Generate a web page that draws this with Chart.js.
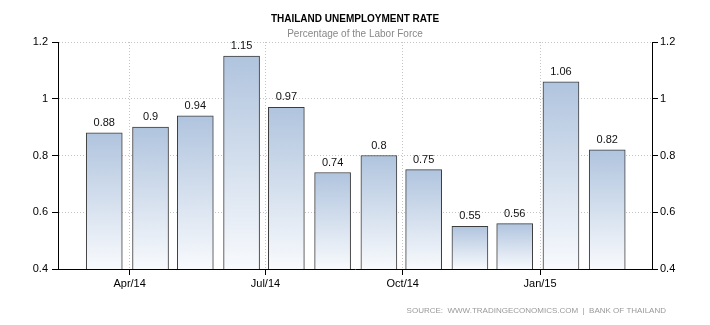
<!DOCTYPE html>
<html><head><meta charset="utf-8">
<script src="https://cdn.jsdelivr.net/npm/chart.js@4/dist/chart.umd.min.js"></script>
<style>html,body{margin:0;padding:0;background:#fff}#wrap{width:710px;height:325px;position:relative}</style>
</head><body><div id="wrap"><canvas id="c" width="710" height="325"></canvas></div>
<script>
const months = ['2014-03-15','2014-04-15','2014-05-15','2014-06-15','2014-07-15','2014-08-15','2014-09-15','2014-10-15','2014-11-15','2014-12-15','2015-01-15','2015-02-15'];
const values = [0.88, 0.9, 0.94, 1.15, 0.97, 0.74, 0.8, 0.75, 0.55, 0.56, 1.06, 0.82];
const tickDates = ['2014-04-01','2014-07-01','2014-10-01','2015-01-01'];
const tickLabels = ['Apr/14','Jul/14','Oct/14','Jan/15'];
const yTicks = [0.4, 0.6, 0.8, 1, 1.2];
const axisStart = '2014-02-12';
const axisEnd = '2015-03-17';
const titleText = 'THAILAND UNEMPLOYMENT RATE';
const subtitleText = 'Percentage of the Labor Force';
const sourceText = 'SOURCE:  WWW.TRADINGECONOMICS.COM  |  BANK OF THAILAND';

const DAY = 86400000, ORIGIN = Date.UTC(2014, 0, 1);
const toDay = s => (Date.parse(s + 'T00:00:00Z') - ORIGIN) / DAY;

const gridColor = '#c4c4c4';
const tickFont = {family: '"Liberation Sans", Arial, sans-serif', size: 11};

function yScale(pos) {
  return {
    position: pos, min: 0.4, max: 1.2,
    afterBuildTicks: s => { s.ticks = yTicks.map(v => ({value: v})); },
    ticks: {callback: v => String(v), font: tickFont, color: '#000', padding: pos === 'left' ? 4 : 2},
    grid: {color: gridColor, lineWidth: 1, tickColor: '#000', tickLength: 6, drawOnChartArea: pos === 'left'},
    border: {display: true, color: '#000', width: 1, dash: [1, 2]},
    afterFit: s => { s.width = 58; }
  };
}

const overlay = {
  id: 'overlay',
  afterDatasetsDraw(chart) {
    const ctx = chart.ctx;
    const meta = chart.getDatasetMeta(0);
    ctx.save();
    ctx.font = '11px "Liberation Sans", Arial, sans-serif';
    ctx.fillStyle = '#111';
    ctx.textAlign = 'center';
    ctx.textBaseline = 'alphabetic';
    meta.data.forEach((el, i) => {
      ctx.fillText(String(values[i]), el.x, el.y - 7);
    });
    ctx.restore();
  },
  afterDraw(chart) {
    const ctx = chart.ctx, a = chart.chartArea;
    const cx = (a.left + a.right) / 2;
    ctx.save();
    ctx.textAlign = 'center';
    ctx.fillStyle = '#000';
    ctx.font = 'bold 10px "Liberation Sans", Arial, sans-serif';
    ctx.fillText(titleText, cx, 22);
    ctx.fillStyle = '#888';
    ctx.font = '10px "Liberation Sans", Arial, sans-serif';
    ctx.fillText(subtitleText, cx, 37);
    ctx.textAlign = 'right';
    ctx.fillStyle = '#999';
    ctx.font = '8px "Liberation Sans", Arial, sans-serif';
    ctx.fillText(sourceText, 666, 313);
    ctx.restore();
  }
};

new Chart(document.getElementById('c'), {
  type: 'bar',
  data: {
    datasets: [{
      data: months.map((m, i) => ({x: toDay(m), y: values[i]})),
      backgroundColor: c => {
        const ch = c.chart, a = ch.chartArea;
        if (!a || c.dataIndex == null || !ch.scales.y) return '#c8d6e8';
        const top = ch.scales.y.getPixelForValue(values[c.dataIndex]);
        const g = ch.ctx.createLinearGradient(0, top, 0, a.bottom);
        g.addColorStop(0, '#b0c4de');
        g.addColorStop(1, '#f8fafd');
        return g;
      },
      borderColor: '#3c3c3c',
      borderWidth: 1,
      borderSkipped: 'start',
      barThickness: 36
    }]
  },
  options: {
    responsive: false,
    animation: false,
    layout: {padding: {top: 42, left: 0, right: 0, bottom: 0}},
    plugins: {legend: {display: false}, tooltip: {enabled: false}},
    scales: {
      x: {
        type: 'linear', offset: false, min: toDay(axisStart), max: toDay(axisEnd),
        afterBuildTicks: s => { s.ticks = tickDates.map(d => ({value: toDay(d)})); },
        ticks: {callback: (v, i) => tickLabels[i], font: tickFont, color: '#000', padding: 2, maxRotation: 0, autoSkip: false},
        grid: {offset: false, color: gridColor, lineWidth: 1, tickColor: '#000', tickLength: 6},
        border: {display: true, color: '#000', width: 1, dash: [1, 2]},
        afterFit: s => { s.height = 56; }
      },
      y: yScale('left'),
      y2: yScale('right')
    }
  },
  plugins: [overlay]
});
</script>
</body></html>
